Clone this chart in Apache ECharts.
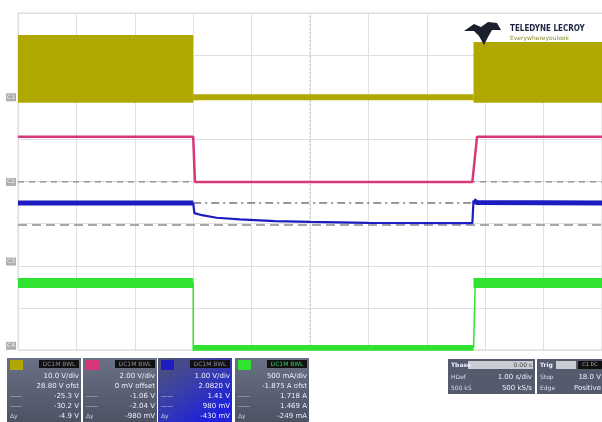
<!DOCTYPE html>
<html><head><meta charset="utf-8">
<script src="https://cdn.jsdelivr.net/npm/echarts@6/dist/echarts.min.js"></script>
<style>html,body{margin:0;padding:0;background:#fff}#c{width:602px;height:422px}</style>
</head><body><div id="c"></div>
<script>
// time axis in divisions (0..10), vertical in divisions (0..8)
const switchOff = 3.0, switchOn = 7.8;
// C1 switching band segments [x0, x1, yLow, yHigh]
const c1Bands = [[0, 3.0, 5.87, 7.48], [7.8, 10, 5.87, 7.48]];
const c1Low = [[3.0, 6.0], [7.8, 6.0]];
const c2Line = [[0, 5.06], [3.0, 5.06], [3.03, 3.99], [7.78, 3.99], [7.86, 5.06], [10, 5.06]];
const c3High1 = [[0, 3.49], [3.0, 3.49]];
const c3Line = [[3.0, 3.49], [3.02, 3.25], [3.15, 3.2], [3.4, 3.14], [3.8, 3.1], [4.4, 3.06], [5.0, 3.04], [6.0, 3.02], [7.78, 3.01], [7.8, 3.55]];
const c3High2 = [[7.8, 3.55], [7.86, 3.5], [10, 3.49]];
const c4Bands = [[0, 3.0, 1.47, 1.71], [3.0, 7.8, -0.02, 0.12], [7.8, 10, 1.47, 1.71]];
const c4Edges = [[3.0, 1.6], [3.0, -0.2], [3.0, 0.05]];
const c4Edges2 = [[7.8, 0.05], [7.83, 1.6]];
const cursorA = 3.49;   // dash-dot reference
const cursorB = 2.97;   // gray dashed reference
const cursorC = 3.99;   // gray dashed reference
const chLabels = ['C1', 'C2', 'C3', 'C4'];
const chLevels = [6.0, 3.99, 2.1, 0.1];
const chColors = ['#b0a700', '#d8387a', '#1c1cc0', '#30e330'];
const panelRows = [
  ['10.0 V/div', '28.80 V ofst', '-25.3 V', '-30.2 V', '-4.9 V'],
  ['2.00 V/div', '0 mV offset', '-1.06 V', '-2.04 V', '-980 mV'],
  ['1.00 V/div', '2.0820 V', '1.41 V', '980 mV', '-430 mV'],
  ['500 mA/div', '-1.875 A ofst', '1.718 A', '1.469 A', '-249 mA']
];
const panelHeads = ['DC1M BWL', 'DC1M BWL', 'DC1M BWL', 'DC1M BWL'];

function bandRender(color) {
  return function (params, api) {
    const a = api.coord([api.value(0), api.value(3)]);
    const b = api.coord([api.value(1), api.value(2)]);
    return {type: 'rect', shape: {x: a[0], y: a[1], width: b[0] - a[0], height: b[1] - a[1]}, style: {fill: color}};
  };
}

const chart = echarts.init(document.getElementById('c'), null, {renderer: 'canvas'});
const gridLeft = 18, gridTop = 13, gridW = 585, gridH = 337;

const graphics = [];
const px = [7, 83, 158, 235];
for (let i = 0; i < 4; i++) {
  const x = px[i];
  const fill = i === 2 ? {type: 'linear', x: 0, y: 0, x2: 0.6, y2: 1, colorStops: [{offset: 0, color: '#4f5670'}, {offset: 0.5, color: '#3a3fa8'}, {offset: 1, color: '#1f22d8'}]}
                       : {type: 'linear', x: 0, y: 0, x2: 0, y2: 1, colorStops: [{offset: 0, color: '#6a7185'}, {offset: 1, color: '#4d5263'}]};
  graphics.push({type: 'rect', shape: {x: x, y: 358, width: 74, height: 64}, style: {fill: fill}});
  graphics.push({type: 'rect', shape: {x: x + 3, y: 360, width: 13, height: 10}, style: {fill: chColors[i]}});
  graphics.push({type: 'rect', shape: {x: x + 32, y: 360, width: 40, height: 8}, style: {fill: '#111'}});
  graphics.push({type: 'text', style: {x: x + 52, y: 364, text: panelHeads[i], fill: i === 3 ? '#3c6' : '#889', font: '6px "DejaVu Sans"', align: 'center', verticalAlign: 'middle'}});
  const ys = [376, 386, 396, 406, 416];
  for (let r = 0; r < 5; r++) {
    graphics.push({type: 'text', style: {x: x + 72, y: ys[r], text: panelRows[i][r], fill: '#eef', font: '7px "DejaVu Sans"', align: 'right', verticalAlign: 'middle'}});
  }
  graphics.push({type: 'text', style: {x: x + 3, y: 396, text: '——', fill: '#ccd', font: '6px "DejaVu Sans"', verticalAlign: 'middle'}});
  graphics.push({type: 'text', style: {x: x + 3, y: 406, text: '——', fill: '#ccd', font: '6px "DejaVu Sans"', verticalAlign: 'middle'}});
  graphics.push({type: 'text', style: {x: x + 3, y: 416, text: 'Δy', fill: '#ccd', font: '6px "DejaVu Sans"', verticalAlign: 'middle'}});
}
// right panels
graphics.push({type: 'rect', shape: {x: 448, y: 359, width: 87, height: 35}, style: {fill: '#555b6c'}});
graphics.push({type: 'rect', shape: {x: 468, y: 361, width: 65, height: 8}, style: {fill: '#c9ccd2'}});
graphics.push({type: 'text', style: {x: 451, y: 365, text: 'Tbase', fill: '#eef', font: 'bold 6px "DejaVu Sans"', verticalAlign: 'middle'}});
graphics.push({type: 'text', style: {x: 532, y: 365, text: '0.00 s', fill: '#444', font: '6px "DejaVu Sans"', align: 'right', verticalAlign: 'middle'}});
graphics.push({type: 'text', style: {x: 451, y: 377, text: 'HDef', fill: '#dde', font: '6px "DejaVu Sans"', verticalAlign: 'middle'}});
graphics.push({type: 'text', style: {x: 532, y: 377, text: '1.00 s/div', fill: '#eef', font: '7px "DejaVu Sans"', align: 'right', verticalAlign: 'middle'}});
graphics.push({type: 'text', style: {x: 451, y: 388, text: '500 kS', fill: '#dde', font: '6px "DejaVu Sans"', verticalAlign: 'middle'}});
graphics.push({type: 'text', style: {x: 532, y: 388, text: '500 kS/s', fill: '#eef', font: '7px "DejaVu Sans"', align: 'right', verticalAlign: 'middle'}});
graphics.push({type: 'rect', shape: {x: 537, y: 359, width: 65, height: 35}, style: {fill: '#555b6c'}});
graphics.push({type: 'rect', shape: {x: 556, y: 361, width: 20, height: 8}, style: {fill: '#c9ccd2'}});
graphics.push({type: 'rect', shape: {x: 578, y: 361, width: 24, height: 8}, style: {fill: '#111'}});
graphics.push({type: 'text', style: {x: 540, y: 365, text: 'Trig', fill: '#eef', font: 'bold 6px "DejaVu Sans"', verticalAlign: 'middle'}});
graphics.push({type: 'text', style: {x: 590, y: 365, text: 'C1 DC', fill: '#aaa', font: '5px "DejaVu Sans"', align: 'center', verticalAlign: 'middle'}});
graphics.push({type: 'text', style: {x: 540, y: 377, text: 'Stop', fill: '#dde', font: '6px "DejaVu Sans"', verticalAlign: 'middle'}});
graphics.push({type: 'text', style: {x: 601, y: 377, text: '18.0 V', fill: '#eef', font: '7px "DejaVu Sans"', align: 'right', verticalAlign: 'middle'}});
graphics.push({type: 'text', style: {x: 540, y: 388, text: 'Edge', fill: '#dde', font: '6px "DejaVu Sans"', verticalAlign: 'middle'}});
graphics.push({type: 'text', style: {x: 601, y: 388, text: 'Positive', fill: '#eef', font: '7px "DejaVu Sans"', align: 'right', verticalAlign: 'middle'}});
// logo
graphics.push({type: 'rect', shape: {x: 462, y: 14, width: 140, height: 28}, style: {fill: '#fff'}, z: 50});
graphics.push({type: 'polygon', shape: {points: [[464, 31], [474, 24], [481, 27], [488, 22], [497, 23], [501, 30], [492, 30], [488, 37], [484, 45], [479, 36], [474, 31]]}, style: {fill: '#1b1f2e'}, z: 51});
graphics.push({type: 'text', style: {x: 510, y: 29, text: 'TELEDYNE LECROY', fill: '#1d2440', font: 'bold 8px "DejaVu Sans Condensed"', verticalAlign: 'middle'}, z: 51});
graphics.push({type: 'text', style: {x: 510, y: 38, text: 'Everywhereyoulook', fill: '#8a8a30', font: '6px "DejaVu Sans"', verticalAlign: 'middle'}, z: 51});

const opt = {
  animation: false,
  backgroundColor: '#fff',
  grid: {left: gridLeft, top: gridTop, width: gridW, height: gridH, show: true, borderColor: '#d6d6d6', borderWidth: 1},
  xAxis: {type: 'value', min: 0, max: 10, interval: 1, axisLabel: {show: false}, axisLine: {show: false}, axisTick: {show: false},
    splitLine: {show: true, lineStyle: {color: '#e0e0e0', width: 1}}},
  yAxis: {type: 'value', min: 0, max: 8, interval: 1, axisLabel: {show: false}, axisLine: {show: false}, axisTick: {show: false},
    splitLine: {show: true, lineStyle: {color: '#e0e0e0', width: 1}}},
  graphic: graphics,
  series: [
    {type: 'line', data: [[5, 0], [5, 8]], symbol: 'none', silent: true, lineStyle: {color: '#c8c8c8', width: 1, type: [2, 2]}, z: 1},
    {type: 'line', data: [[0, 4], [10, 4]], symbol: 'none', silent: true, lineStyle: {color: '#c8c8c8', width: 1, type: [2, 2]}, z: 1},
    {type: 'line', data: [[0, cursorC], [10, cursorC]], symbol: 'none', silent: true, lineStyle: {color: '#8a8a8a', width: 1.2, type: [6, 5]}, z: 2},
    {type: 'line', data: [[0, cursorB], [10, cursorB]], symbol: 'none', silent: true, lineStyle: {color: '#8a8a8a', width: 1.5, type: [9, 5]}, z: 2},
    {type: 'line', data: [[switchOff, cursorA], [switchOn, cursorA]], symbol: 'none', silent: true, lineStyle: {color: '#333', width: 1, type: [8, 4, 2, 4]}, z: 2},
    {type: 'custom', renderItem: bandRender(chColors[0]), data: c1Bands, encode: {x: [0, 1], y: [2, 3]}, silent: true, z: 3},
    {type: 'line', data: c1Low, symbol: 'none', silent: true, lineStyle: {color: chColors[0], width: 6}, z: 3},
    {type: 'line', data: c2Line, symbol: 'none', silent: true, lineStyle: {color: chColors[1], width: 2.5}, z: 4},
    {type: 'line', data: c3High1, symbol: 'none', silent: true, lineStyle: {color: chColors[2], width: 5}, z: 5},
    {type: 'line', data: c3Line, symbol: 'none', silent: true, lineStyle: {color: chColors[2], width: 2.2}, z: 5},
    {type: 'line', data: c3High2, symbol: 'none', silent: true, lineStyle: {color: chColors[2], width: 5}, z: 5},
    {type: 'custom', renderItem: bandRender(chColors[3]), data: c4Bands, encode: {x: [0, 1], y: [2, 3]}, silent: true, z: 4},
    {type: 'line', data: c4Edges, symbol: 'none', silent: true, lineStyle: {color: chColors[3], width: 1.5}, z: 4},
    {type: 'line', data: c4Edges2, symbol: 'none', silent: true, lineStyle: {color: chColors[3], width: 1.5}, z: 4},
    {type: 'scatter', data: chLevels.map((v, i) => [0, v]), symbolSize: 0, silent: true, z: 6,
      label: {show: true, position: 'left', distance: 2, formatter: p => chLabels[p.dataIndex], fontSize: 6, fontFamily: 'DejaVu Sans',
        color: '#fff', backgroundColor: '#9a9a9a', padding: [1, 1]}}
  ]
};
chart.setOption(opt);
</script></body></html>
